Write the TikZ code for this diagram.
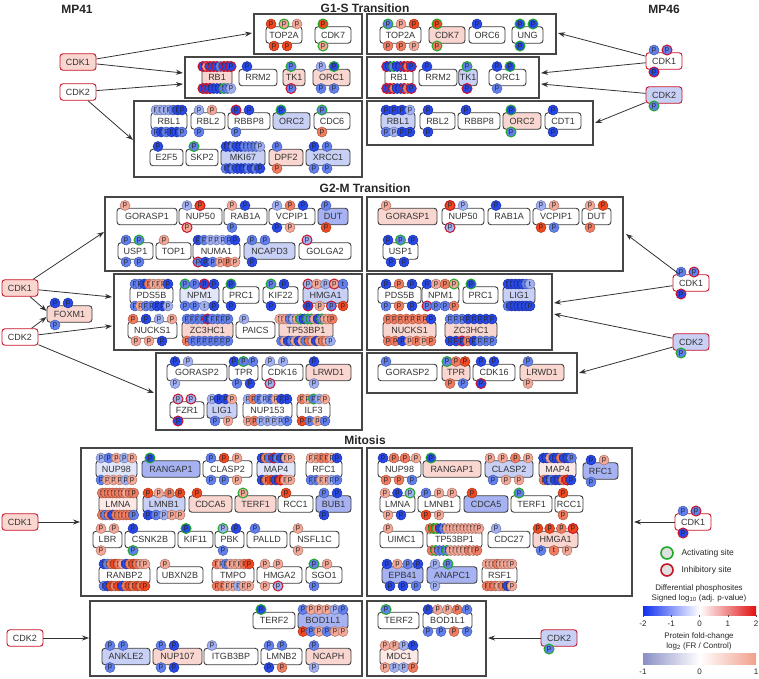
\documentclass[tikz,border=0pt]{standalone}
\usepackage{fontspec}
\setmainfont{Liberation Sans}
\usetikzlibrary{arrows.meta}
\definecolor{cB}{RGB}{40,72,232}
\definecolor{cb}{RGB}{98,128,240}
\definecolor{cl}{RGB}{160,176,243}
\definecolor{cR}{RGB}{240,72,32}
\definecolor{cr}{RGB}{242,124,96}
\definecolor{cq}{RGB}{244,168,152}
\definecolor{PR}{RGB}{250,214,208}
\definecolor{PRL}{RGB}{252,232,229}
\definecolor{PB}{RGB}{200,208,246}
\definecolor{PBM}{RGB}{166,178,242}
\definecolor{PBL}{RGB}{225,230,250}
\definecolor{actg}{RGB}{30,170,40}
\definecolor{inhr}{RGB}{200,20,40}
\definecolor{edge}{RGB}{60,60,60}
\definecolor{secc}{RGB}{70,70,70}
\definecolor{barB}{RGB}{16,48,240}
\definecolor{barR}{RGB}{225,16,16}
\definecolor{barb}{RGB}{138,143,198}
\definecolor{barr}{RGB}{240,160,140}
\newcommand\mksite[2]{\tikzset{s#1/.style={fill=#2,draw=#2!70!black,line width=0.5pt},
 s#1G/.style={fill=#2,draw=actg,line width=1pt},
 s#1I/.style={fill=#2,draw=inhr,line width=1pt},
 s#1t/.style={fill=#2,draw=#2!70!black,line width=0.5pt,/utils/exec=\def\sitech{t}}}}
\mksite{B}{cB}\mksite{b}{cb}\mksite{l}{cl}\mksite{R}{cR}\mksite{r}{cr}\mksite{q}{cq}
\tikzset{
 site/.style={circle,inner sep=0pt,minimum size=10pt,font=\fontsize{7.5}{7.5}\selectfont,text=black!85,/utils/exec=\def\sitech{p}},
 prot/.style={rounded corners=3pt,draw=edge,line width=0.9pt,minimum height=16.5pt,inner sep=1pt,font=\fontsize{9}{10}\selectfont,text=black!80},
 kin/.style={prot,draw=inhr},
 sec/.style={draw=secc,line width=1.2pt},
 arr/.style={-{Stealth[length=7pt,width=5pt]},line width=0.8pt,draw=black!80},
 ttl/.style={font=\bfseries\fontsize{12}{14}\selectfont,text=black!85},
 leg/.style={font=\fontsize{8.5}{10}\selectfont,text=black!85}
}
\newcommand\sites[5]{%
 \if\relax\detokenize{#4}\relax\else
 \gdef\nsites{0}%
 \foreach \s in {#4}{\xdef\nsites{\the\numexpr\nsites+1\relax}}%
 \pgfmathsetmacro\sw{#2-#1}%
 \ifnum\nsites=1
   \pgfmathsetmacro\sst{#1+8}\def\ssp{0}%
 \else
   \pgfmathsetmacro\ssp{min(13,max(3.5,(\sw-10)/(\nsites-1)))}%
   \pgfmathsetmacro\stot{(\nsites-1)*\ssp}%
   \pgfmathsetmacro\sst{(\stot<=(\sw-15)) ? (#1+8) : ((#1+#2)/2-\stot/2)}%
 \fi
 \foreach \s [count=\i] in {#4}{%
   \pgfmathsetmacro\xx{\sst+(\i-1)*\ssp}%
   \edef\tmp{\noexpand\node[site,s\s] (#5\i) at (\xx,#3) {\noexpand\sitech};}\tmp
 }%
 \fi}
\newcommand\gene[9]{%
 \pgfmathsetmacro\pw{#4-#3}%
 \pgfmathsetmacro\pcx{(#3+#4)/2}%
 \node[#2,minimum width=\pw pt,fill=#7] (#1) at (\pcx,#5) {#6};
 \pgfmathsetmacro\pyt{#5-11}\pgfmathsetmacro\pyb{#5+11}%
 \sites{#3}{#4}{\pyt}{#8}{#1t}%
 \sites{#3}{#4}{\pyb}{#9}{#1b}%
}
\begin{document}
\begin{tikzpicture}[x=1pt,y=-1pt]
\useasboundingbox (0,0) rectangle (759,678);
% titles
\node[ttl] (tMP41) at (77,9) {MP41};
\node[ttl] (tMP46) at (664,9) {MP46};
\node[ttl] (tG1S) at (365,8) {G1-S Transition};
\node[ttl] (tG2M) at (365,188) {G2-M Transition};
\node[ttl] (tMit) at (365,440) {Mitosis};
% ===== G1-S =====
\draw[sec] (254,14) rectangle (362,54);
\draw[sec] (185,57) rectangle (362,98);
\draw[sec] (134,101) rectangle (362,177);
\draw[sec] (367,14) rectangle (556,54);
\draw[sec] (367,57) rectangle (539,98);
\draw[sec] (367,101) rectangle (593,145);
\gene{aTOP2A}{prot}{266}{302}{35}{TOP2A}{white}{R,qG,q}{R,R}
\gene{aCDK7}{prot}{315}{351}{35}{CDK7}{white}{RG}{qG}
\gene{aRB1}{prot}{202}{232}{77.5}{RB1}{PR}{BI,qI,BI,BI,BI,b,BI,BI,BI}{BI,BI,BI,B,B,B,bG,b,l}
\gene{aRRM2}{prot}{239}{277}{77.5}{RRM2}{white}{B}{}
\gene{aTK1}{prot}{283}{305}{77.5}{TK1}{PR}{bG}{bI}
\gene{aORC1}{prot}{313}{350}{77.5}{ORC1}{PR}{l,BG}{b,b}
\gene{aRBL1}{prot}{151}{187}{121}{RBL1}{white}{l,l,l,l,b,B,B}{b,B,b,B,B,b}
\gene{aRBL2}{prot}{191}{225}{121}{RBL2}{white}{l,q}{b}
\gene{aRBBP8}{prot}{228}{270}{121}{RBBP8}{white}{BI,B}{b}
\gene{aORC2}{prot}{273}{310}{121}{ORC2}{PB}{BG}{}
\gene{aCDC6}{prot}{314}{350}{121}{CDC6}{white}{bG}{r}
\gene{aE2F5}{prot}{150}{183}{157.5}{E2F5}{white}{B}{}
\gene{aSKP2}{prot}{186}{218}{157.5}{SKP2}{white}{bG}{}
\gene{aMKI67}{prot}{221}{265}{157.5}{MKI67}{PB}{B,B,b,B,B,b,b,b,b,l}{b,B,b,B,B,B,b,B,b,B}
\gene{aDPF2}{prot}{269}{303}{157.5}{DPF2}{PR}{b}{r}
\gene{aXRCC1}{prot}{306}{350}{157.5}{XRCC1}{PB}{B,b}{b,b}
\gene{bTOP2A}{prot}{380}{421}{35}{TOP2A}{white}{bG,q,R}{r,r,q}
\gene{bCDK7}{prot}{429}{465}{35}{CDK7}{PR}{RG}{rG}
\gene{bORC6}{prot}{469}{505}{35}{ORC6}{white}{B}{}
\gene{bUNG}{prot}{512}{543}{35}{UNG}{white}{BG,BG}{BG}
\gene{bRB1}{prot}{385}{413}{77.5}{RB1}{white}{BI,B,bG,B,B,BI,rI,BI}{BI,BI,rI,B,B,BI,r,BI}
\gene{bRRM2}{prot}{419}{457}{77.5}{RRM2}{white}{B}{}
\gene{bTK1}{prot}{459}{477}{77.5}{TK1}{PB}{bG}{BI}
\gene{bORC1}{prot}{489}{526}{77.5}{ORC1}{white}{B,BG}{b}
\gene{bRBL1}{prot}{381}{415}{121}{RBL1}{PB}{B,B,B,l}{b,l,B,B}
\gene{bRBL2}{prot}{420}{455}{121}{RBL2}{white}{B}{B}
\gene{bRBBP8}{prot}{458}{500}{121}{RBBP8}{white}{B}{}
\gene{bORC2}{prot}{503}{541}{121}{ORC2}{PR}{BG}{bG}
\gene{bCDT1}{prot}{545}{581}{121}{CDT1}{white}{B}{B}
\gene{kA1}{kin}{60}{96}{62}{CDK1}{PR}{}{}
\gene{kA2}{kin}{60}{96}{92}{CDK2}{white}{}{}
\gene{kA3}{kin}{646}{682}{61}{CDK1}{white}{b,bI}{BI}
\gene{kA4}{kin}{646}{682}{95}{CDK2}{PB}{}{bG}
\coordinate (a1) at (252,33); \coordinate (a2) at (183,73);
\coordinate (a3) at (183,84); \coordinate (a4) at (133,140);
\coordinate (a5) at (558,33); \coordinate (a6) at (541,73);
\coordinate (a7) at (541,84); \coordinate (a8) at (595,123);
\draw[arr] (kA1) -- (a1); \draw[arr] (kA1) -- (a2);
\draw[arr] (kA2) -- (a3); \draw[arr] (kA2) -- (a4);
\draw[arr] (kA3) -- (a5); \draw[arr] (kA3) -- (a6);
\draw[arr] (kA4) -- (a7); \draw[arr] (kA4) -- (a8);
% ===== G2-M =====
\draw[sec] (105,197) rectangle (362,271);
\draw[sec] (114,274) rectangle (362,350);
\draw[sec] (156,353) rectangle (362,430);
\draw[sec] (367,197) rectangle (623,271);
\draw[sec] (367,274) rectangle (552,350);
\draw[sec] (367,353) rectangle (577,393);
\gene{cGORASP1}{prot}{117}{177}{216.5}{GORASP1}{white}{q}{}
\gene{cNUP50}{prot}{179}{222}{216.5}{NUP50}{white}{l,RI}{qI}
\gene{cRAB1A}{prot}{224}{267}{216.5}{RAB1A}{white}{q,B}{b}
\gene{cVCPIP1}{prot}{269}{315}{216.5}{VCPIP1}{white}{l,r,B}{B,q}
\gene{cDUT}{prot}{318}{348}{216.5}{DUT}{PBM}{b}{R}
\gene{cUSP1}{prot}{118}{153}{251}{USP1}{white}{b,bG}{b,b}
\gene{cTOP1}{prot}{156}{191}{251}{TOP1}{white}{q}{}
\gene{cNUMA1}{prot}{193}{240}{251}{NUMA1}{white}{B,b,l,l,l,b,B}{bI,B,b,q,r,q}
\gene{cNCAPD3}{prot}{244}{295}{251}{NCAPD3}{PB}{b,b}{B}
\gene{cGOLGA2}{prot}{299}{351}{251}{GOLGA2}{white}{lI}{}
\gene{cPDS5B}{prot}{130}{173}{295}{PDS5B}{white}{b,b,B,r,q,q,q,B}{b,q,b,b,B,B,l}
\gene{cNPM1}{prot}{180}{219}{295}{NPM1}{PBL}{bG,b,BI,B}{b,b,lt,B}
\gene{cPRC1}{prot}{223}{259}{295}{PRC1}{white}{BG}{B}
\gene{cKIF22}{prot}{263}{298}{295}{KIF22}{white}{bG,B}{B}
\gene{cHMGA1}{prot}{303}{348}{295}{HMGA1}{PB}{lI,q,l,qI,bt}{BI,q,bI,R}
\gene{cNUCKS1}{prot}{128}{177}{330}{NUCKS1}{white}{r,B,l,q}{q,q,B}
\gene{cZC3HC1}{prot}{182}{233}{330}{ZC3HC1}{PR}{b,b,b,b,BI,b,b,b,b}{r,b,b,b,b,b,b,b}
\gene{cPAICS}{prot}{236}{275}{330}{PAICS}{white}{l}{}
\gene{cTP53BP1}{prot}{279}{333}{330}{TP53BP1}{PR}{q,q,q,b,l,q,bG,B,bG,bG,q,B,bG,q,q,r}{b,q,B,b,q,B,q,b,r,q,B,q,r,q,l}
\gene{cGORASP2}{prot}{167}{227}{372.5}{GORASP2}{white}{B,l}{l}
\gene{cTPR}{prot}{229}{258}{372.5}{TPR}{white}{B,bG,b}{b,B}
\gene{cCDK16}{prot}{262}{303}{372.5}{CDK16}{white}{l,l}{lI}
\gene{cLRWD1}{prot}{306}{351}{372.5}{LRWD1}{PR}{B}{l}
\gene{cFZR1}{prot}{170}{204}{410}{FZR1}{white}{lI,lI}{BI}
\gene{cLIG1}{prot}{207}{237}{410}{LIG1}{PB}{l,B,B,q}{b,q}
\gene{cNUP153}{prot}{243}{292}{410}{NUP153}{white}{l,r,b,l,b,q,B,B}{q,r,l,l,l,l,b}
\gene{cILF3}{prot}{297}{330}{410}{ILF3}{white}{r,q,bG,l,q}{R,b,q,b}
\gene{dGORASP1}{prot}{378}{437}{216.5}{GORASP1}{PR}{q}{}
\gene{dNUP50}{prot}{442}{484}{216.5}{NUP50}{white}{RI,l}{lI}
\gene{dRAB1A}{prot}{488}{530}{216.5}{RAB1A}{white}{B}{}
\gene{dVCPIP1}{prot}{533}{579}{216.5}{VCPIP1}{white}{l,q}{R,b}
\gene{dDUT}{prot}{582}{611}{216.5}{DUT}{white}{q,R}{r}
\gene{dUSP1}{prot}{383}{418}{251}{USP1}{white}{B,bG,B}{B,B}
\gene{dPDS5B}{prot}{378}{421}{295}{PDS5B}{white}{B,r,B}{b,r,B}
\gene{dNPM1}{prot}{422}{459}{295}{NPM1}{white}{B,q,r,qG}{bI,b,b,r}
\gene{dPRC1}{prot}{463}{498}{295}{PRC1}{white}{BG}{}
\gene{dLIG1}{prot}{503}{535}{295}{LIG1}{PB}{B,B,B,B,B,b,lt}{b,B,B,B,B,B,B}
\gene{dNUCKS1}{prot}{383}{436}{330}{NUCKS1}{PR}{r,r,r,r,r,r,r,B}{r,r,B,q,r,q,r}
\gene{dZC3HC1}{prot}{445}{497}{330}{ZC3HC1}{PR}{b,b,b,B,B,B,B,B}{B,B,BI,r,B,b,b,b}
\gene{dGORASP2}{prot}{378}{437}{372.5}{GORASP2}{white}{b}{}
\gene{dTPR}{prot}{442}{470}{372.5}{TPR}{PR}{bG,r,R}{r,b}
\gene{dCDK16}{prot}{473}{515}{372.5}{CDK16}{white}{B,B}{BI}
\gene{dLRWD1}{prot}{520}{564}{372.5}{LRWD1}{PR}{b}{q}
\gene{kB1}{kin}{2}{38}{288}{CDK1}{PR}{}{}
\gene{FOXM1}{prot}{47}{92}{314}{FOXM1}{PR}{B,B}{b}
\gene{kB2}{kin}{2}{38}{337}{CDK2}{white}{}{}
\gene{kB3}{kin}{673}{709}{283}{CDK1}{white}{b,bI}{BI}
\gene{kB4}{kin}{673}{709}{342}{CDK2}{PB}{}{bG}
\coordinate (b1) at (104,232); \coordinate (b2) at (112,297);
\coordinate (b3) at (112,326); \coordinate (b4) at (154,393);
\coordinate (b5) at (626,234); \coordinate (b6) at (554,303);
\coordinate (b7) at (554,314); \coordinate (b8) at (579,373);
\draw[arr] (kB1) -- (b1); \draw[arr] (kB1) -- (b2);
\draw[arr] (kB1) -- ([yshift=3pt]FOXM1.west);
\draw[arr] (kB2) -- ([yshift=-3pt]FOXM1.west);
\draw[arr] (kB2) -- (b3); \draw[arr] (kB2) -- (b4);
\draw[arr] (kB3) -- (b5); \draw[arr] (kB3) -- (b6);
\draw[arr] (kB4) -- (b7); \draw[arr] (kB4) -- (b8);
% ===== Mitosis =====
\draw[sec] (81,448) rectangle (362,596);
\draw[sec] (367,448) rectangle (632,596);
\draw[sec] (90,601) rectangle (362,676);
\draw[sec] (367,601) rectangle (486,676);
\gene{eNUP98}{prot}{96}{137}{469}{NUP98}{PBL}{l,b,q,l,q}{b,q,q,q,l,q}
\gene{eRANGAP1}{prot}{142}{200}{469}{RANGAP1}{PBM}{BG}{}
\gene{eCLASP2}{prot}{203}{252}{469}{CLASP2}{white}{b,R,q}{b,b,q}
\gene{eMAP4}{prot}{257}{295}{469}{MAP4}{PBL}{B,r,b,BI,b,B,q,q}{B,r,R,B,RI,q,q}
\gene{eRFC1}{prot}{306}{342}{469}{RFC1}{white}{q,q,r,r,q,B}{b,b,q,q,l,b}
\gene{eLMNA}{prot}{99}{137}{504}{LMNA}{PRL}{r,r,r,r,r,r,r,q,r,r}{r,b,r,B,r,r,r,r,r,b}
\gene{eLMNB1}{prot}{143}{185}{504}{LMNB1}{PB}{R,q,r,R}{B,b,l,q,q}
\gene{eCDCA5}{prot}{189}{232}{504}{CDCA5}{PR}{R}{}
\gene{eTERF1}{prot}{235}{276}{504}{TERF1}{PR}{qG}{}
\gene{eRCC1}{prot}{278}{313}{504}{RCC1}{white}{R}{}
\gene{eBUB1}{prot}{316}{351}{504}{BUB1}{PBM}{b,B}{B}
\gene{eLBR}{prot}{93}{122}{539.5}{LBR}{white}{q,q}{q}
\gene{eCSNK2B}{prot}{125}{175}{539.5}{CSNK2B}{white}{B}{bG}
\gene{eKIF11}{prot}{178}{213}{539.5}{KIF11}{white}{BG}{}
\gene{ePBK}{prot}{215}{244}{539.5}{PBK}{white}{lG,B}{b}
\gene{ePALLD}{prot}{247}{287}{539.5}{PALLD}{white}{b}{}
\gene{eNSFL1C}{prot}{290}{339}{539.5}{NSFL1C}{white}{q}{q}
\gene{eRANBP2}{prot}{99}{150}{575}{RANBP2}{white}{B,b,r,R,r,q,B,r,R,r,q,q}{b,B,R,r,R,B,r,R,r,R,r,R}
\gene{eUBXN2B}{prot}{157}{203}{575}{UBXN2B}{white}{q}{}
\gene{eTMPO}{prot}{212}{254}{575}{TMPO}{white}{r,q,b,q,q,q,r,R}{r,r,q,q,l,q,q}
\gene{eHMGA2}{prot}{257}{302}{575}{HMGA2}{white}{q,q}{q,lI}
\gene{eSGO1}{prot}{306}{342}{575}{SGO1}{white}{bG,q}{b}
\gene{fNUP98}{prot}{378}{421}{469}{NUP98}{white}{B,r,r,q}{r,r,b}
\gene{fRANGAP1}{prot}{423}{481}{469}{RANGAP1}{PR}{BG}{}
\gene{fCLASP2}{prot}{485}{533}{469}{CLASP2}{PB}{q,q,r,q}{b,q,q}
\gene{fMAP4}{prot}{539}{576}{469}{MAP4}{PRL}{B,B,q,B,B,r,B,B,b}{r,B,b,B,B,r,RI,B}
\gene{fRFC1}{prot}{583}{618}{471}{RFC1}{PBM}{B,q}{b}
\gene{fLMNA}{prot}{380}{415}{504}{LMNA}{white}{q,B,lG}{q,B}
\gene{fLMNB1}{prot}{418}{460}{504}{LMNB1}{white}{b,q,q}{R,q}
\gene{fCDCA5}{prot}{464}{508}{504}{CDCA5}{PBM}{R}{}
\gene{fTERF1}{prot}{511}{552}{504}{TERF1}{white}{bG}{}
\gene{fRCC1}{prot}{555}{583}{504}{RCC1}{white}{R}{r}
\gene{fUIMC1}{prot}{380}{423}{539.5}{UIMC1}{white}{q}{}
\gene{fTP53BP1}{prot}{427}{482}{539.5}{TP53BP1}{white}{r,RG,rG,B,b,q,q,q,q,q,q,q,q,q,q}{r,rG,b,b,bG,q,q,q,q,q,r,q,r}
\gene{fCDC27}{prot}{488}{530}{539.5}{CDC27}{white}{l}{}
\gene{fHMGA1}{prot}{533}{578}{539.5}{HMGA1}{PR}{R,R,r,RI}{b,rt,q}
\gene{fEPB41}{prot}{382}{423}{575}{EPB41}{PBM}{B,q,b,B}{B,B,b}
\gene{fANAPC1}{prot}{427}{477}{575}{ANAPC1}{PBM}{l,bG}{l}
\gene{fRSF1}{prot}{482}{517}{575}{RSF1}{white}{q,q,q,r,q,q,q,q}{r,r,r,q,r,B,q}
\gene{gTERF2}{prot}{253}{295}{620.5}{TERF2}{white}{BG}{}
\gene{gBOD1L1}{prot}{298}{348}{620.5}{BOD1L1}{PBM}{b,q,q,q,l,b}{R,b,q,b,q,q}
\gene{gANKLE2}{prot}{102}{150}{656.5}{ANKLE2}{PB}{b,b}{b}
\gene{gNUP107}{prot}{153}{202}{656.5}{NUP107}{PR}{b,B}{b,B}
\gene{gITGB3BP}{prot}{204}{258}{656.5}{ITGB3BP}{white}{l}{}
\gene{gLMNB2}{prot}{261}{302}{656.5}{LMNB2}{white}{b,b}{B,r}
\gene{gNCAPH}{prot}{306}{351}{656.5}{NCAPH}{PR}{b}{l}
\gene{hTERF2}{prot}{378}{419}{620.5}{TERF2}{white}{bG}{}
\gene{hBOD1L1}{prot}{423}{472}{620.5}{BOD1L1}{white}{B,q,q,r,b}{b,b,r,b}
\gene{hMDC1}{prot}{380}{418}{656.5}{MDC1}{PRL}{q,q,l,B}{q,l,l,r}
\gene{kC1}{kin}{2}{38}{522}{CDK1}{PR}{}{}
\gene{kC2}{kin}{675}{711}{522}{CDK1}{white}{b,bI}{BI}
\gene{kC3}{kin}{7}{43}{638}{CDK2}{white}{}{}
\gene{kC4}{kin}{541}{577}{638}{CDK2}{PB}{}{bG}
\coordinate (c1) at (80,522); \coordinate (c2) at (634,522);
\coordinate (c3) at (89,638); \coordinate (c4) at (488,638);
\draw[arr] (kC1) -- (c1); \draw[arr] (kC2) -- (c2);
\draw[arr] (kC3) -- (c3); \draw[arr] (kC4) -- (c4);
% ===== Legend =====
\node[circle,minimum size=12pt,inner sep=0pt,fill=black!12,draw=actg,line width=1.6pt] (lgA) at (667,553) {};
\node[circle,minimum size=12pt,inner sep=0pt,fill=black!12,draw=inhr,line width=1.6pt] (lgI) at (667,570) {};
\node[leg,anchor=west] (lgAt) at (678,553) {Activating site};
\node[leg,anchor=west] (lgIt) at (678,570) {Inhibitory site};
\node[leg,font=\fontsize{8}{9}\selectfont] (lgD1) at (699,588) {Differential phosphosites};
\node[leg,font=\fontsize{8}{9}\selectfont] (lgD2) at (699,598) {Signed log\textsubscript{10} (adj. p-value)};
\shade[left color=barB,right color=barR,middle color=white] (643,606) rectangle (756,615);
\foreach \t/\v [count=\k] in {643/-2,671.25/-1,699.5/0,727.75/1,756/2}{
  \draw[black!70,line width=0.4pt] (\t,615) -- (\t,617);
  \node[leg,font=\fontsize{8}{9}\selectfont] (tka\k) at (\t,624) {\v};}
\node[leg,font=\fontsize{8}{9}\selectfont] (lgP1) at (699,636) {Protein fold-change};
\node[leg,font=\fontsize{8}{9}\selectfont] (lgP2) at (699,646) {log\textsubscript{2} (FR / Control)};
\shade[left color=barb,right color=barr,middle color=white] (643,653) rectangle (756,664);
\foreach \t/\v [count=\k] in {643/-1,699.5/0,756/1}{
  \node[leg,font=\fontsize{8}{9}\selectfont] (tkb\k) at (\t,672) {\v};}
\end{tikzpicture}
\end{document}
